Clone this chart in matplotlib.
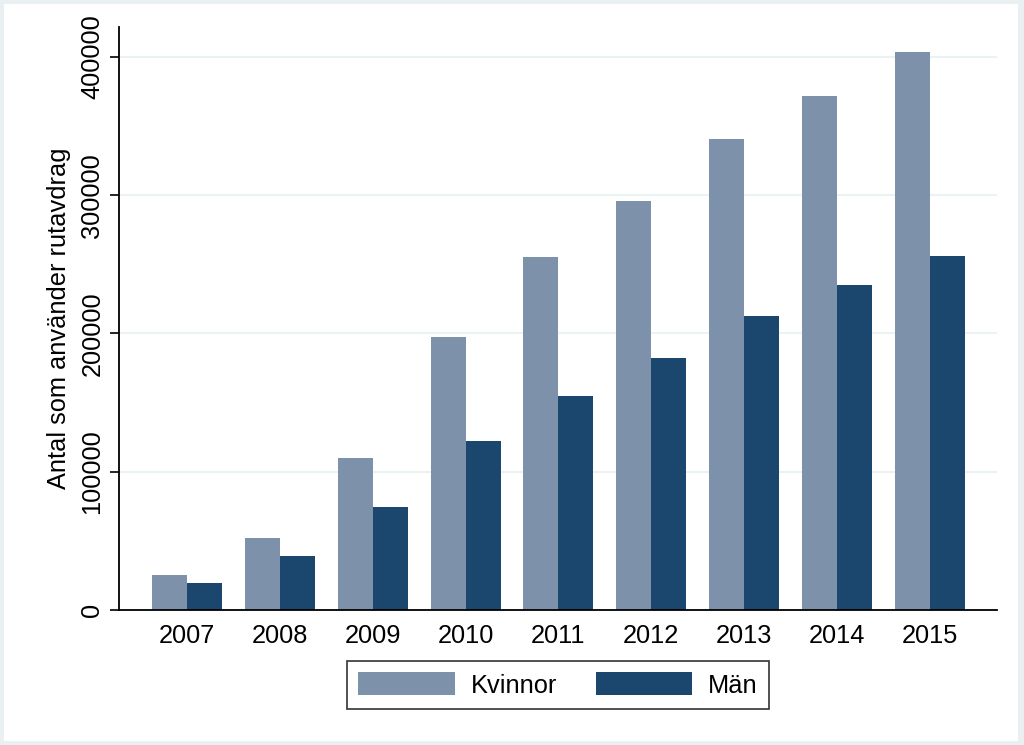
import numpy as np
import matplotlib
matplotlib.use('Agg')
import matplotlib.pyplot as plt
from matplotlib.patches import Rectangle

plt.rcParams['font.family'] = ['Liberation Sans', 'DejaVu Sans']

years = ['2007', '2008', '2009', '2010', '2011', '2012', '2013', '2014', '2015']
kvinnor = [25300, 52000, 110000, 197500, 255300, 295800, 340700, 371800, 403600]
man = [19500, 39000, 74500, 122200, 154800, 182300, 212700, 235100, 256000]
series_labels = ['Kvinnor', 'Män']
colors = ['#7d92aa', '#1b476f']
fs = 18.3

fig = plt.figure(figsize=(10.24, 7.45), dpi=100)
fig.patch.set_facecolor('#eaf0f2')
# white graph region inside thin light border
fig.patches.append(Rectangle((0.004, 0.005), 0.990, 0.990, transform=fig.transFigure,
                             facecolor='white', edgecolor='none', zorder=-1))

ax = fig.add_axes([0.1162, 0.1812, 0.8574, 0.7826])
ax.set_facecolor('white')

x = np.arange(len(years))
w = 0.377
b1 = ax.bar(x - w / 2, kvinnor, width=w, color=colors[0], zorder=2)
b2 = ax.bar(x + w / 2, man, width=w, color=colors[1], zorder=2)

ax.set_xlim(-0.73, len(years) - 1 + 0.72)
ax.set_ylim(0, 421700)
ax.set_xticks(x)
ax.set_xticklabels(years)
ax.set_yticks([0, 100000, 200000, 300000, 400000])
ax.set_yticklabels(['0', '100000', '200000', '300000', '400000'],
                   rotation=90, va='center')
ax.tick_params(axis='x', length=0, pad=10, labelsize=fs)
ax.tick_params(axis='y', length=6.5, width=1.2, pad=4, labelsize=fs)

ax.yaxis.grid(True, color='#eaf2f3', linewidth=1.5, zorder=0)
ax.set_axisbelow(True)

for side in ['top', 'right']:
    ax.spines[side].set_visible(False)
for side in ['left', 'bottom']:
    ax.spines[side].set_linewidth(1.3)

ax.set_ylabel('Antal som använder rutavdrag', fontsize=fs, labelpad=7)

leg = fig.legend([b1, b2], series_labels, loc='center', bbox_to_anchor=(0.545, 0.0805),
                 ncol=2, fontsize=fs, frameon=True, fancybox=False,
                 handlelength=3.8, handleheight=1.02, handletextpad=0.63,
                 columnspacing=1.5, borderpad=0.43)
leg.get_frame().set_edgecolor('black')
leg.get_frame().set_linewidth(1.2)

fig.savefig('out.png', dpi=100, facecolor=fig.get_facecolor())
